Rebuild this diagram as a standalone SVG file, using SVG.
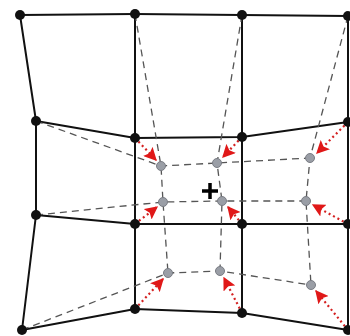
<svg xmlns="http://www.w3.org/2000/svg" width="350" height="336" viewBox="0 0 350 336">
<defs>
<style>
.grid{stroke:#111;stroke-width:2;fill:none;stroke-linejoin:round}
.dash{stroke:#555;stroke-width:1.3;stroke-dasharray:7,5;fill:none}
.arr{stroke:#d42020;stroke-width:2.2;stroke-dasharray:2,3;fill:none;marker-end:url(#ah)}
.bn{fill:#111}
.gn{fill:#9a9ea6;stroke:#7a7d84;stroke-width:1}
</style>
<marker id="ah" viewBox="0 0 10 10" refX="9" refY="5" markerWidth="6" markerHeight="6" orient="auto" markerUnits="strokeWidth">
<path d="M0,0 L10,5 L0,10 L2,5 z" fill="#e01818"/>
</marker>
</defs>
<rect width="350" height="336" fill="#fff"/>
<g id="connectors">
<g id="grid-lines">
<polyline class="grid" points="20,15 135,14 242,15 348,16"/>
<polyline class="grid" points="36,121 135,138 242,137 348,122"/>
<polyline class="grid" points="36,215 135,224 242,224 348,224"/>
<polyline class="grid" points="22,330 135,309 242,313 348,330"/>
<polyline class="grid" points="20,15 36,121 36,215 22,330"/>
<polyline class="grid" points="135,14 135,138 135,224 135,309"/>
<polyline class="grid" points="242,15 242,137 242,224 242,313"/>
<polyline class="grid" points="348,16 348,122 348,224 348,330"/>
</g>
<g id="deformed-lines">
<polyline class="dash" points="36,121 161,166 217,163 310,158"/>
<polyline class="dash" points="36,215 163,202 222,201 306,201"/>
<polyline class="dash" points="22,330 168,273 220,271 311,285"/>
<polyline class="dash" points="135,14 161,166 163,202 168,273"/>
<polyline class="dash" points="242,15 217,163 222,201 220,271"/>
<polyline class="dash" points="348,16 310,158 306,201 311,285"/>
</g>
<g id="displacement-arrows">
<line class="arr" x1="135" y1="138" x2="156" y2="160"/>
<line class="arr" x1="242" y1="137" x2="223" y2="157"/>
<line class="arr" x1="348" y1="122" x2="317" y2="153"/>
<line class="arr" x1="135" y1="224" x2="157" y2="207"/>
<line class="arr" x1="242" y1="224" x2="228" y2="207"/>
<line class="arr" x1="348" y1="224" x2="313" y2="205"/>
<line class="arr" x1="135" y1="309" x2="163" y2="279"/>
<line class="arr" x1="242" y1="313" x2="224" y2="278"/>
<line class="arr" x1="348" y1="330" x2="316" y2="291"/>
</g>
</g>
<g id="black-nodes">
<g id="b00"><circle class="bn" cx="20" cy="15" r="5"/></g>
<g id="b01"><circle class="bn" cx="135" cy="14" r="5"/></g>
<g id="b02"><circle class="bn" cx="242" cy="15" r="5"/></g>
<g id="b03"><circle class="bn" cx="348" cy="16" r="5"/></g>
<g id="b10"><circle class="bn" cx="36" cy="121" r="5"/></g>
<g id="b11"><circle class="bn" cx="135" cy="138" r="5"/></g>
<g id="b12"><circle class="bn" cx="242" cy="137" r="5"/></g>
<g id="b13"><circle class="bn" cx="348" cy="122" r="5"/></g>
<g id="b20"><circle class="bn" cx="36" cy="215" r="5"/></g>
<g id="b21"><circle class="bn" cx="135" cy="224" r="5"/></g>
<g id="b22"><circle class="bn" cx="242" cy="224" r="5"/></g>
<g id="b23"><circle class="bn" cx="348" cy="224" r="5"/></g>
<g id="b30"><circle class="bn" cx="22" cy="330" r="5"/></g>
<g id="b31"><circle class="bn" cx="135" cy="309" r="5"/></g>
<g id="b32"><circle class="bn" cx="242" cy="313" r="5"/></g>
<g id="b33"><circle class="bn" cx="348" cy="330" r="5"/></g>
</g>
<g id="gray-nodes">
<g id="g11"><circle class="gn" cx="161" cy="166" r="4.5"/></g>
<g id="g12"><circle class="gn" cx="217" cy="163" r="4.5"/></g>
<g id="g13"><circle class="gn" cx="310" cy="158" r="4.5"/></g>
<g id="g21"><circle class="gn" cx="163" cy="202" r="4.5"/></g>
<g id="g22"><circle class="gn" cx="222" cy="201" r="4.5"/></g>
<g id="g23"><circle class="gn" cx="306" cy="201" r="4.5"/></g>
<g id="g31"><circle class="gn" cx="168" cy="273" r="4.5"/></g>
<g id="g32"><circle class="gn" cx="220" cy="271" r="4.5"/></g>
<g id="g33"><circle class="gn" cx="311" cy="285" r="4.5"/></g>
</g>
<g id="center">
<path d="M202,191 H218 M210,183 V199" stroke="#000" stroke-width="3.5" fill="none"/>
</g>
</svg>
